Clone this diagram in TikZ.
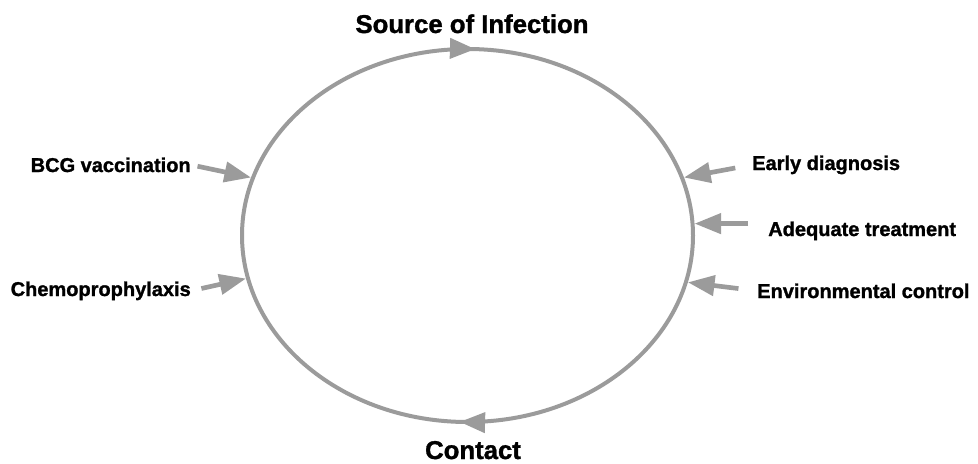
\documentclass[tikz,border=0pt]{standalone}
\usepackage{fontspec}
\setmainfont{Liberation Sans}[BoldFeatures={FakeBold=1.3}]
\usetikzlibrary{arrows.meta,positioning,shapes.geometric,decorations.markings}
\definecolor{ink}{HTML}{000000}
\definecolor{ringgray}{HTML}{9B9B9B}

\begin{document}
\begin{tikzpicture}[
  x=0.75pt, y=-0.75pt,
  cycle/.style={ellipse, draw=ringgray, line width=3pt, inner sep=0pt,
    minimum width=338.25pt, minimum height=279.75pt,
    postaction={decorate, decoration={markings,
      mark=at position 0.244 with {\arrowreversed{Triangle[length=19pt, width=15pt]}},
      mark=at position 0.744 with {\arrowreversed{Triangle[length=19pt, width=15pt]}}}}},
  stage/.style={inner sep=0pt, text=ink, font=\fontsize{19.3}{22}\selectfont\bfseries},
  measure/.style={inner sep=0pt, text=ink, font=\fontsize{15}{18}\selectfont\bfseries},
  link/.style={-{Triangle[length=20pt, width=15pt]}, line width=3.5pt, ringgray},
]
  \useasboundingbox (0,0) rectangle (978,464);

  \node[cycle] (cycle) at (467.5,235.5) {};
  \node[stage, anchor=base] (source) at (472,33) {Source of Infection};
  \node[stage, anchor=base] (contact) at (473,459) {Contact};

  \node[measure, anchor=base east] (bcg) at (191,172) {BCG vaccination};
  \node[measure, anchor=base east] (chemo) at (191,296) {Chemoprophylaxis};
  \node[measure, anchor=base west] (early) at (752,170) {Early diagnosis};
  \node[measure, anchor=base west] (treat) at (768,236) {Adequate treatment};
  \node[measure, anchor=base west] (env) at (757,298) {Environmental control};

  \draw[link, shorten <=5pt] (bcg.east) -- (cycle.165);
  \draw[link, shorten <=8pt] (chemo.east) -- (cycle.191);
  \draw[link, shorten <=12.75pt] (early.west) -- (cycle.15);
  \draw[link, shorten <=15pt] (treat.west |- cycle.3) -- (cycle.3);
  \draw[link, shorten <=14pt] (env.west) -- (cycle.348);
\end{tikzpicture}
\end{document}
